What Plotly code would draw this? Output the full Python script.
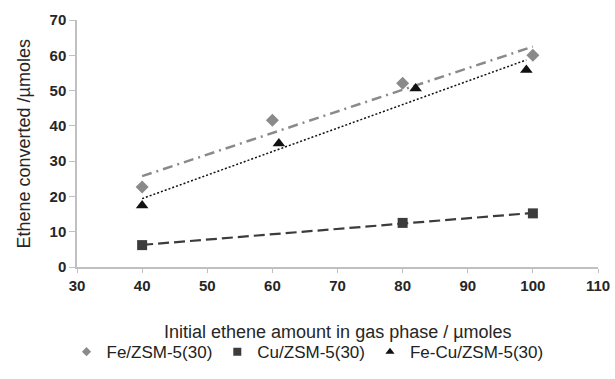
import numpy as np
import plotly.graph_objects as go

fe_x = [40, 60, 80, 100]
fe_y = [22.7, 41.6, 52.1, 60.0]
cu_x = [40, 80, 100]
cu_y = [6.2, 12.5, 15.2]
fecu_x = [40, 61, 82, 99]
fecu_y = [17.4, 35.0, 50.6, 55.8]

x_ticks = [30, 40, 50, 60, 70, 80, 90, 100, 110]
y_ticks = [0, 10, 20, 30, 40, 50, 60, 70]

x_title = "Initial ethene amount in gas phase / µmoles"
y_title = "Ethene converted /µmoles"

def fit(x, y):
    k, b = np.polyfit(x, y, 1)
    xs = [min(x), max(x)]
    return xs, [k * v + b for v in xs]

fig = go.Figure()

series = [
    ("Fe/ZSM-5(30)", fe_x, fe_y, "#8a8a8a", "diamond", 10, 7, "10px,5px,2px,5px", 2.5),
    ("Cu/ZSM-5(30)", cu_x, cu_y, "#3c3c3c", "square", 10, 8, "11px,5px", 2.2),
    ("Fe-Cu/ZSM-5(30)", fecu_x, fecu_y, "#111111", "triangle-up", 11, 8, "2px,2px", 1.5),
]

for name, x, y, col, sym, sz, lsz, dash, lw in series:
    tx, ty = fit(x, y)
    fig.add_trace(go.Scatter(x=tx, y=ty, mode="lines", showlegend=False,
                             line=dict(color=col, dash=dash, width=lw), hoverinfo="skip"))

for name, x, y, col, sym, sz, lsz, dash, lw in series:
    fig.add_trace(go.Scatter(x=x, y=y, mode="markers", name=name, showlegend=False,
                             marker=dict(color=col, symbol=sym, size=sz)))

for name, x, y, col, sym, sz, lsz, dash, lw in series:
    fig.add_trace(go.Scatter(x=[None], y=[None], mode="markers", name=name,
                             marker=dict(color=col, symbol=sym, size=lsz)))

fig.update_layout(
    width=615, height=379, autosize=False,
    margin=dict(l=77, r=17, t=20, b=112, autoexpand=False),
    paper_bgcolor="white", plot_bgcolor="white",
    font=dict(family="Liberation Sans, Arial, sans-serif", color="#222"),
    legend=dict(orientation="h", xref="container", yref="container",
                x=0.5, xanchor="center", y=0.071, yanchor="middle",
                font=dict(size=17, color="#222"), itemwidth=30, tracegroupgap=0),
    annotations=[
        dict(text=x_title, xref="paper", yref="paper", x=0.5, xanchor="center",
             y=-65 / 247, yanchor="middle", showarrow=False,
             font=dict(size=18, color="#262626")),
        dict(text=y_title, xref="paper", yref="paper", x=-54 / 521, xanchor="center",
             y=0.5, yanchor="middle", showarrow=False, textangle=-90,
             font=dict(size=18, color="#262626")),
    ],
)
fig.update_xaxes(range=[30, 110], tickvals=x_ticks,
                 ticktext=[f"<b>{v}</b>" for v in x_ticks],
                 showgrid=False, zeroline=False,
                 showline=True, linecolor="#c0c0c0", linewidth=1.5, tickangle=0,
                 ticks="outside", ticklen=4, tickcolor="#c0c0c0",
                 tickfont=dict(size=15, family="Arial, Liberation Sans", color="#262626"))
fig.update_yaxes(range=[0, 70], tickvals=y_ticks,
                 ticktext=[f"<b>{v}</b>" for v in y_ticks],
                 showgrid=False, zeroline=False,
                 showline=True, linecolor="#c0c0c0", linewidth=1.5,
                 ticks="outside", ticklen=6, tickcolor="#c0c0c0",
                 tickfont=dict(size=15, family="Arial, Liberation Sans", color="#262626"))

fig.write_html("out.html")
